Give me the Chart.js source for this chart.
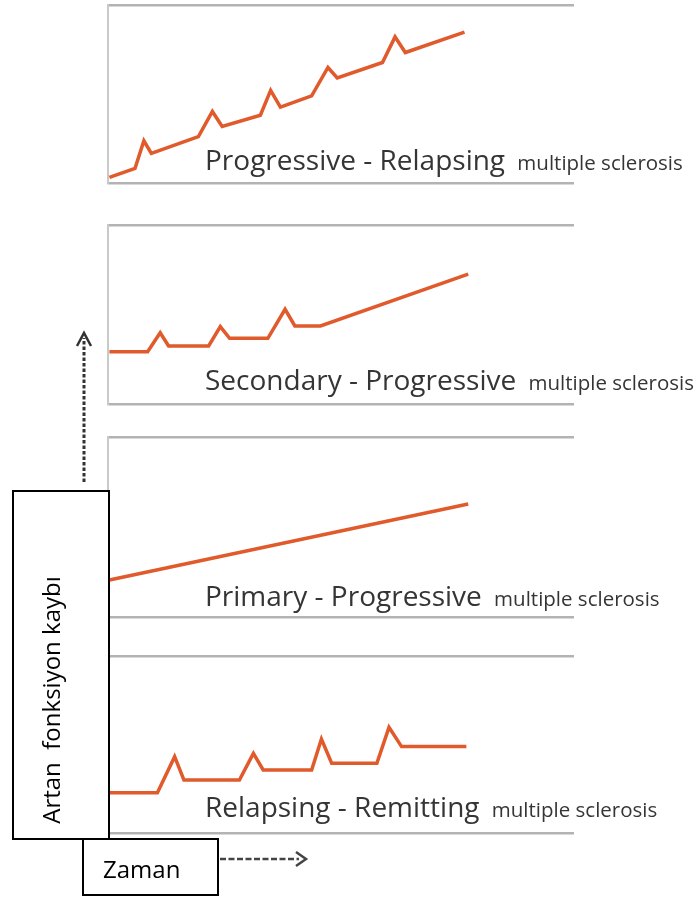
<!DOCTYPE html>
<html lang="tr">
<head>
  <meta charset="UTF-8">
  <title>Multiple sclerosis tipleri</title>
  <script src="https://cdn.jsdelivr.net/npm/chart.js"></script>
  <style>
    body { margin: 0; background: #fff; }
    #page { position: relative; width: 700px; height: 899px; overflow: hidden; font-family: "Open Sans", sans-serif; }
    .panel { position: absolute; left: 104px; width: 470px; }
    .label { position: absolute; left: 205px; font-size: 28px; line-height: 28px; color: #353535; white-space: nowrap; font-weight: 500; }
    .label small { font-size: 20.5px; margin-left: 5px; }
    #arrows { position: absolute; left: 0; top: 0; }
    .box { position: absolute; box-sizing: border-box; border: 2px solid #000; background: #fff; color: #000; }
    #yBox { left: 12px; top: 490px; width: 98px; height: 350px; }
    #yText { position: absolute; left: -99px; top: 685px; width: 300px; height: 30px; line-height: 30px;
             font-size: 24px; text-align: center; transform: rotate(-90deg); white-space: pre; color: #000; }
    #xBox { left: 82px; top: 838px; width: 137px; height: 58px; }
    #xText { position: absolute; left: 103px; top: 857px; font-size: 24px; line-height: 24px; color: #000; }
  </style>
</head>
<body>
  <div id="page">
    <div class="panel" style="top:0px;height:188px"><canvas id="chartPR"></canvas></div>
    <div class="panel" style="top:220px;height:189px"><canvas id="chartSP"></canvas></div>
    <div class="panel" style="top:432px;height:190px"><canvas id="chartPP"></canvas></div>
    <div class="panel" style="top:651px;height:187px"><canvas id="chartRR"></canvas></div>

    <div class="label" style="top:144.6px">Progressive - Relapsing <small>multiple sclerosis</small></div>
    <div class="label" style="top:365.1px">Secondary - Progressive <small>multiple sclerosis</small></div>
    <div class="label" style="top:580.6px">Primary - Progressive <small>multiple sclerosis</small></div>
    <div class="label" style="top:792.1px">Relapsing - Remitting <small>multiple sclerosis</small></div>

    <svg id="arrows" width="700" height="899">
      <line x1="84" y1="482" x2="84" y2="338" stroke="#333" stroke-width="3" stroke-dasharray="3.5 2"/>
      <polyline points="77,346 84,333 91,346" fill="none" stroke="#333" stroke-width="2.5"/>
      <line x1="220" y1="859" x2="299" y2="859" stroke="#444" stroke-width="2.5" stroke-dasharray="6 2.5"/>
      <polyline points="296,852 306,859 296,866" fill="none" stroke="#444" stroke-width="2.5"/>
    </svg>

    <div class="box" id="yBox"></div>
    <div id="yText">Artan  fonksiyon kaybı</div>
    <div class="box" id="xBox"></div>
    <div id="xText">Zaman</div>
  </div>

  <script>
    // zaman (0-100) ve fonksiyon kaybı (0-100), her panel için
    const timePR = [0.3, 5.8, 7.7, 9.3, 19.4, 22.4, 24.5, 32.7, 34.9, 37.0, 43.7, 47.2, 49.2, 58.9, 61.6, 63.8, 76.5];
    const lossPR = [3.2, 8.2, 23.7, 16.6, 26.1, 40.2, 31.8, 38.1, 52.0, 42.6, 49.0, 64.9, 59.0, 67.7, 82.1, 73.3, 84.8];

    const timeSP = [0.3, 8.5, 11.2, 13.0, 21.6, 24.1, 26.1, 34.3, 38.0, 40.1, 45.6, 77.3];
    const lossSP = [29.2, 29.2, 39.8, 32.4, 32.4, 43.2, 36.7, 36.7, 52.9, 43.6, 43.6, 72.6];

    const timePP = [0.3, 77.3];
    const lossPP = [20.6, 62.8];

    const timeRR = [0.3, 10.6, 14.3, 16.3, 28.2, 31.2, 33.3, 43.7, 45.8, 48.0, 57.7, 60.3, 63.0, 76.9];
    const lossRR = [22.8, 22.8, 43.1, 29.9, 29.9, 45.0, 35.6, 35.6, 53.1, 39.4, 39.4, 59.7, 48.8, 48.8];

    Chart.defaults.font.family = '"Open Sans", sans-serif';

    function makePanel(id, times, losses) {
      const points = times.map((t, i) => ({ x: t, y: losses[i] }));
      return new Chart(document.getElementById(id), {
        type: 'line',
        data: {
          datasets: [{
            data: points,
            borderColor: '#e05a2c',
            borderWidth: 3.5,
            borderJoinStyle: 'miter',
            pointRadius: 0,
            tension: 0,
            fill: false
          }]
        },
        options: {
          responsive: true,
          maintainAspectRatio: false,
          animation: false,
          layout: { padding: { top: 5, bottom: 5, left: 4, right: 0 } },
          plugins: { legend: { display: false }, tooltip: { enabled: false } },
          scales: {
            x: { type: 'linear', min: 0, max: 100, display: false },
            y: {
              min: 0, max: 100,
              afterBuildTicks: axis => { axis.ticks = [{ value: 0 }, { value: 100 }]; },
              ticks: { display: false },
              grid: { color: '#b3b3b3', lineWidth: 2.5, drawTicks: false },
              border: { display: true, color: '#c9c9c9', width: 2 }
            }
          }
        }
      });
    }

    makePanel('chartPR', timePR, lossPR);
    makePanel('chartSP', timeSP, lossSP);
    makePanel('chartPP', timePP, lossPP);
    makePanel('chartRR', timeRR, lossRR);
  </script>
</body>
</html>
